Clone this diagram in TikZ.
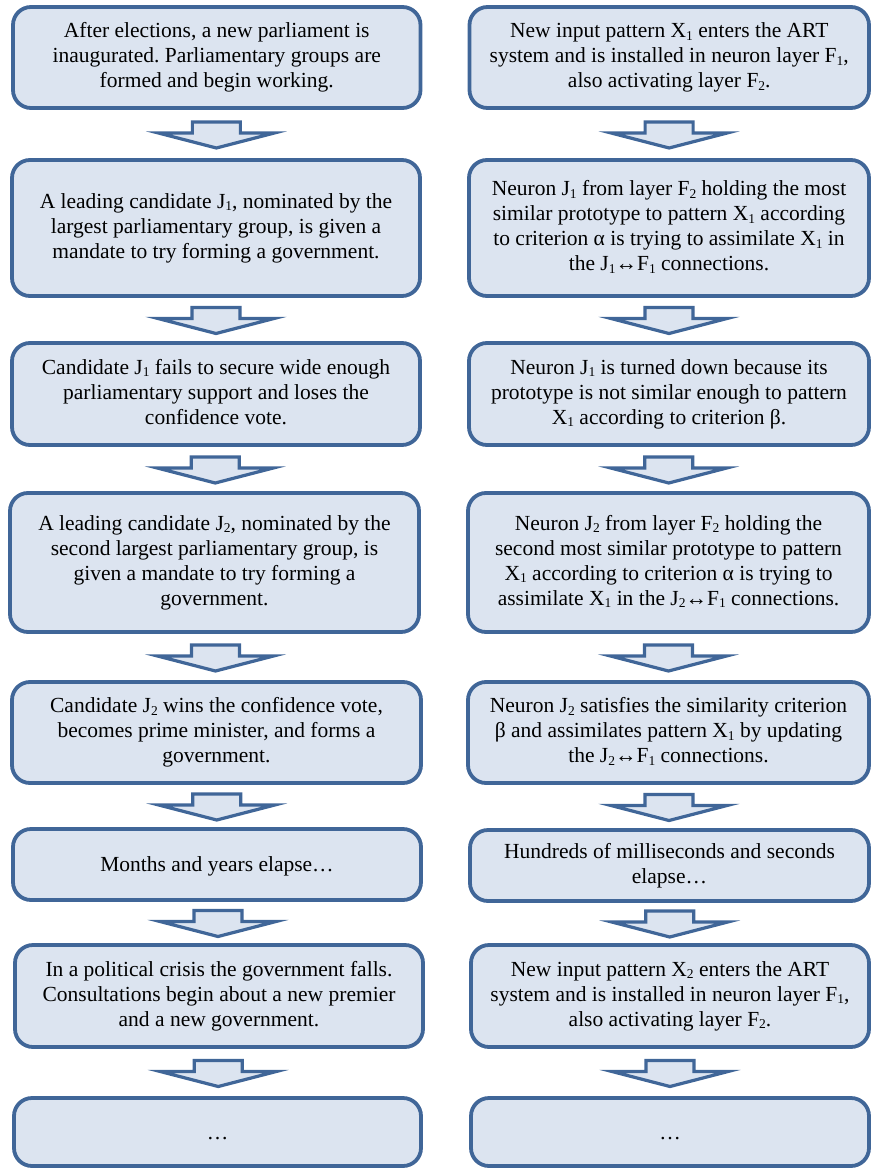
\documentclass[tikz,border=0pt]{standalone}
\usepackage{fontspec}
\setmainfont{Liberation Serif}
\usetikzlibrary{calc}
\frenchspacing
\definecolor{boxfill}{RGB}{220,228,240}
\definecolor{boxline}{RGB}{64,102,152}
\newcommand\subx[1]{\raisebox{-2.5pt}{\fontsize{13.5}{13.5}\selectfont #1}}
\newcommand\topstrut{\rule{0pt}{19.2pt}}
\newcommand\botstrut{\rule[-4.6pt]{0pt}{0pt}}
\newcommand\blockarrow[2]{%
  \draw[arr] let \p1=($(#1.south)!0.5!(#2.north)$) in
    (\x1-24pt,\y1+12pt) -- (\x1+24pt,\y1+12pt) -- (\x1+24pt,\y1+1pt) -- (\x1+58pt,\y1+1pt)
    -- (\x1,\y1-14pt) -- (\x1-58pt,\y1+1pt) -- (\x1-24pt,\y1+1pt) -- cycle;}
\begin{document}
\begin{tikzpicture}[x=1pt,y=1pt,
  box/.style={draw=boxline, fill=boxfill, line width=3.8pt, rounded corners=18pt,
    align=center, inner sep=0pt, font=\fontsize{21.5}{25}\selectfont,
    execute at begin node=\topstrut, execute at end node=\botstrut},
  arr/.style={draw=boxline, fill=boxfill, line width=3.2pt, line join=miter}]
\useasboundingbox (0,0) rectangle (871,-1169);
% left column
\node[box, minimum width=407.5pt, minimum height=101pt] (L1) at (216.75,-57.5)
  {After elections, a new parliament is\\inaugurated. Parliamentary groups are\\formed and begin working.};
\node[box, minimum width=408pt, minimum height=136pt] (L2) at (216,-228)
  {A leading candidate J\subx{1}, nominated by the\\largest parliamentary group, is given a\\mandate to try forming a government.};
\node[box, minimum width=408pt, minimum height=102pt] (L3) at (216,-394)
  {Candidate J\subx{1} fails to secure wide enough\\parliamentary support and loses the\\confidence vote.};
\node[box, minimum width=409pt, minimum height=139pt] (L4) at (214.5,-562.5)
  {A leading candidate J\subx{2}, nominated by the\\second largest parliamentary group, is\\given a mandate to try forming a\\government.};
\node[box, minimum width=409pt, minimum height=101pt] (L5) at (216.5,-732.5)
  {Candidate J\subx{2} wins the confidence vote,\\becomes prime minister, and forms a\\government.};
\node[box, minimum width=408pt, minimum height=71pt] (L6) at (217,-864.5)
  {Months and years elapse…};
\node[box, minimum width=408pt, minimum height=102pt] (L7) at (219,-996)
  {In a political crisis the government falls.\\Consultations begin about a new premier\\and a new government.};
\node[box, minimum width=407pt, minimum height=68pt] (L8) at (217.5,-1132)
  {…};
% right column
\node[box, minimum width=399.5pt, minimum height=101pt] (R1) at (669.25,-57.5)
  {New input pattern X\subx{1} enters the ART\\system and is installed in neuron layer F\subx{1},\\also activating layer F\subx{2}.};
\node[box, minimum width=400pt, minimum height=136pt] (R2) at (669,-228)
  {Neuron J\subx{1} from layer F\subx{2} holding the most\\similar prototype to pattern X\subx{1} according\\to criterion α is trying to assimilate X\subx{1} in\\the J\subx{1}↔F\subx{1} connections.};
\node[box, minimum width=400pt, minimum height=102pt] (R3) at (669,-394)
  {Neuron J\subx{1} is turned down because its\\prototype is not similar enough to pattern\\X\subx{1} according to criterion β.};
\node[box, minimum width=401pt, minimum height=139pt] (R4) at (668.5,-562.5)
  {Neuron J\subx{2} from layer F\subx{2} holding the\\second most similar prototype to pattern\\X\subx{1} according to criterion α is trying to\\assimilate X\subx{1} in the J\subx{2}↔F\subx{1} connections.};
\node[box, minimum width=401pt, minimum height=101pt] (R5) at (668.5,-732.5)
  {Neuron J\subx{2} satisfies the similarity criterion\\β and assimilates pattern X\subx{1} by updating\\the J\subx{2}↔F\subx{1} connections.};
\node[box, minimum width=399pt, minimum height=71pt] (R6) at (669.5,-865.5)
  {Hundreds of milliseconds and seconds\\elapse…};
\node[box, minimum width=398pt, minimum height=102pt] (R7) at (670,-996)
  {New input pattern X\subx{2} enters the ART\\system and is installed in neuron layer F\subx{1},\\also activating layer F\subx{2}.};
\node[box, minimum width=398pt, minimum height=68pt] (R8) at (670,-1132)
  {…};
% arrows
\blockarrow{L1}{L2}
\blockarrow{L2}{L3}
\blockarrow{L3}{L4}
\blockarrow{L4}{L5}
\blockarrow{L5}{L6}
\blockarrow{L6}{L7}
\blockarrow{L7}{L8}
\blockarrow{R1}{R2}
\blockarrow{R2}{R3}
\blockarrow{R3}{R4}
\blockarrow{R4}{R5}
\blockarrow{R5}{R6}
\blockarrow{R6}{R7}
\blockarrow{R7}{R8}
\end{tikzpicture}
\end{document}
